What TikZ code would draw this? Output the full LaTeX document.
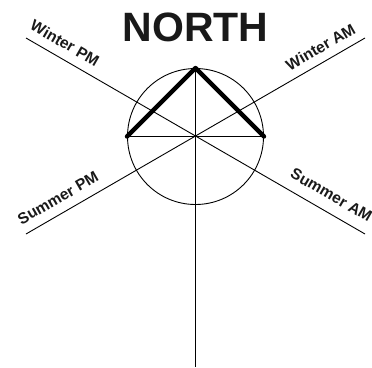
\documentclass[tikz,border=0pt]{standalone}
\usepackage{fontspec}
\setmainfont{Liberation Sans}
\tikzset{
 thinl/.style={line width=0.9pt,black},
 thickl/.style={line width=4.4pt,black,line cap=round,line join=round},
 lab/.style={font=\bfseries\fontsize{15.6}{17}\selectfont,inner sep=0pt,text=black!90}
}
\begin{document}
\begin{tikzpicture}[x=1pt,y=-1pt]
\useasboundingbox (0,0) rectangle (372,367);
\coordinate (c) at (195.5,136.5);
\coordinate (w) at (127,136.5);
\coordinate (e) at (264,136.5);
\coordinate (n) at (195.5,68);
\coordinate (s) at (195.5,367);
\coordinate (wp) at (26,38);
\coordinate (sa) at (365,234);
\coordinate (sp) at (26,234);
\coordinate (wa) at (365,38);
\draw[thinl] (c) circle (68);
\draw[thinl] (wp)--(sa);
\draw[thinl] (sp)--(wa);
\draw[thinl] (n)--(s);
\draw[thinl] (w)--(e);
\draw[thickl] (w)--(n)--(e);
\node[font=\bfseries\fontsize{41}{45}\selectfont,inner sep=0pt,text=black!90] (north) at (195.5,27) {NORTH};
\node[lab,rotate=-30] (l1) at (65,43) {Winter PM};
\node[lab,rotate=30] (l2) at (320.5,47) {Winter AM};
\node[lab,rotate=30] (l3) at (58,198) {Summer PM};
\node[lab,rotate=-30] (l4) at (331.5,195) {Summer AM};
\end{tikzpicture}
\end{document}
